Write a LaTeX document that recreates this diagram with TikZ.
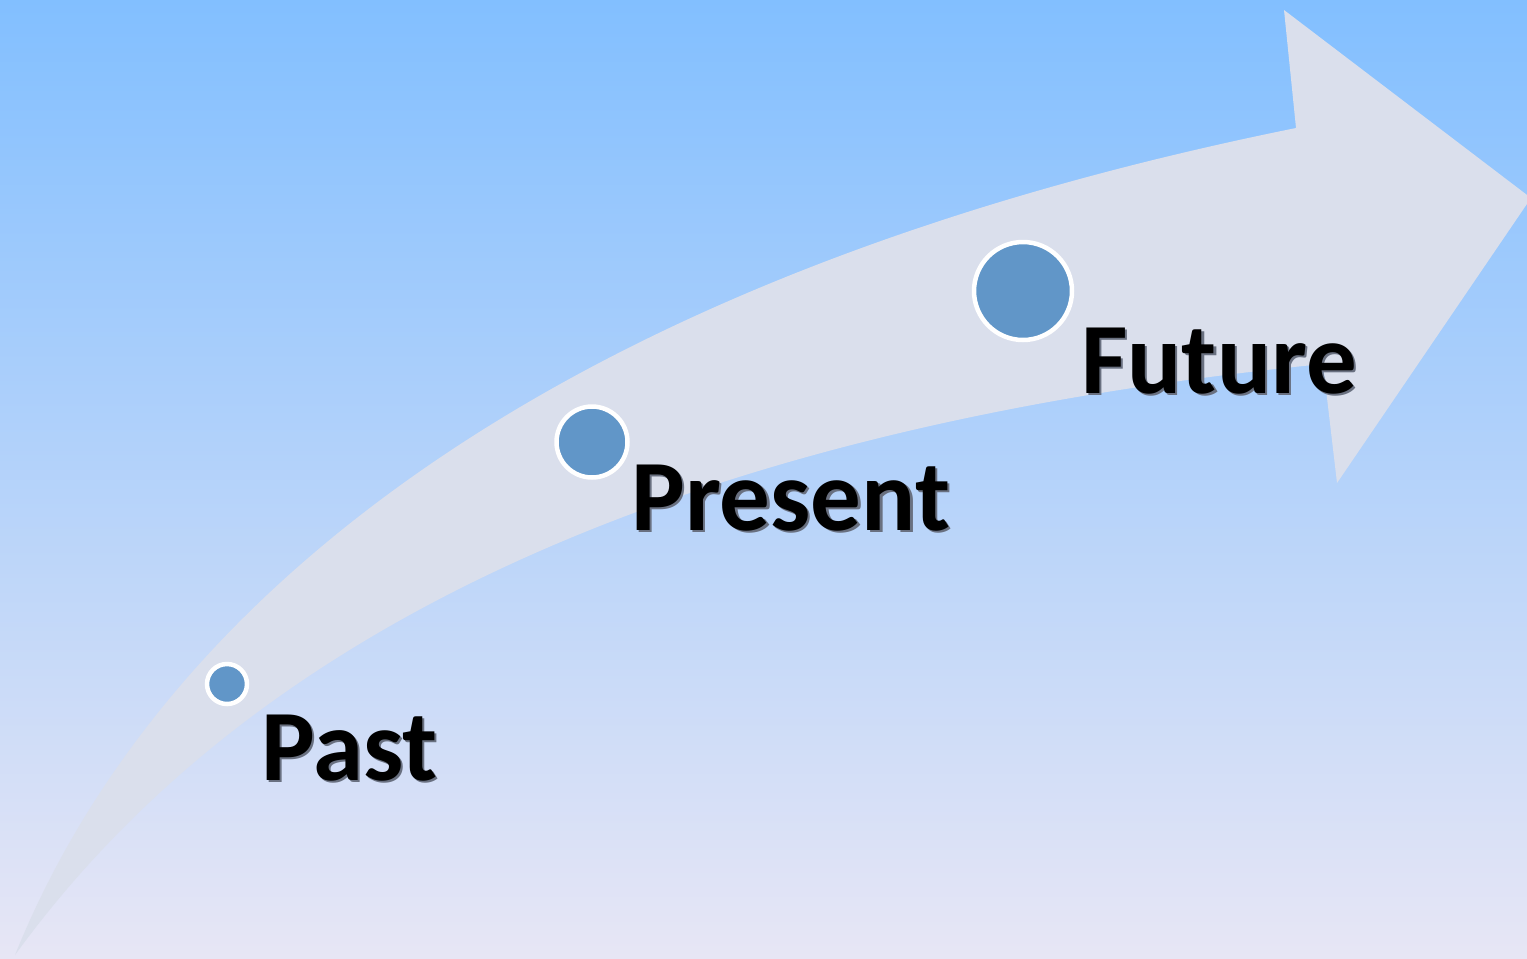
\documentclass[tikz,border=0pt]{standalone}
\usepackage{fontspec}
\setmainfont{Carlito}
\usepackage{tikz}
\usetikzlibrary{positioning, calc, backgrounds}
\usepackage{xcolor}
\definecolor{skytop}{RGB}{130,191,255}
\definecolor{skymid}{RGB}{172,211,249}
\definecolor{skybottom}{RGB}{231,230,245}
\definecolor{arrowfill}{RGB}{218,223,236}
\definecolor{dotfill}{RGB}{97,150,200}
\definecolor{shadowgray}{RGB}{105,112,128}

% label with a soft drop shadow set behind it in the same box
\newcommand{\shadowword}[1]{%
    \makebox[0pt][l]{\hspace{0.045cm}\raisebox{-0.045cm}{\color{shadowgray}#1}}#1}

\begin{document}
\begin{tikzpicture}[
        x=0.02cm, y=-0.02cm,
        dot/.style={circle, draw=white, line width=0.09cm, fill=dotfill, inner sep=0pt},
        word/.style={anchor=base west, inner sep=0pt,
                     font=\bfseries\fontsize{57.5}{62}\selectfont},
    ]

    % ---------- page and sky -----------------------------------------------
    \useasboundingbox (0,0) rectangle (1527,958);
    \shade[top color=skytop, middle color=skymid, bottom color=skybottom]
        (0,0) rectangle (1527,958);

    % ---------- big curved arrow --------------------------------------------
    \coordinate (tail)    at (15,955);
    \coordinate (notchup) at (1296,128);
    \coordinate (barbup)  at (1284,10);
    \coordinate (tip)     at (1531,198);
    \coordinate (barblow) at (1337,483);
    \coordinate (notchlo) at (1323,364);

    \fill[arrowfill] (tail) .. controls (150,620) and (520,285) .. (notchup)
        -- (barbup) -- (tip) -- (barblow) -- (notchlo)
        .. controls (560,440) and (200,700) .. (tail) -- cycle;

    % ---------- time points ------------------------------------------------
    \node[dot, minimum size=0.80cm] (pastdot)    at (227,684)  {};
    \node[dot, minimum size=1.42cm] (presentdot) at (592,442)  {};
    \node[dot, minimum size=1.96cm] (futuredot)  at (1023,291) {};

    \node[word] (pastlabel)    at (261,780)  {\shadowword{Past}};
    \node[word] (presentlabel) at (631,530)  {\shadowword{Present}};
    \node[word] (futurelabel)  at (1081,393) {\shadowword{Future}};

\end{tikzpicture}
\end{document}
